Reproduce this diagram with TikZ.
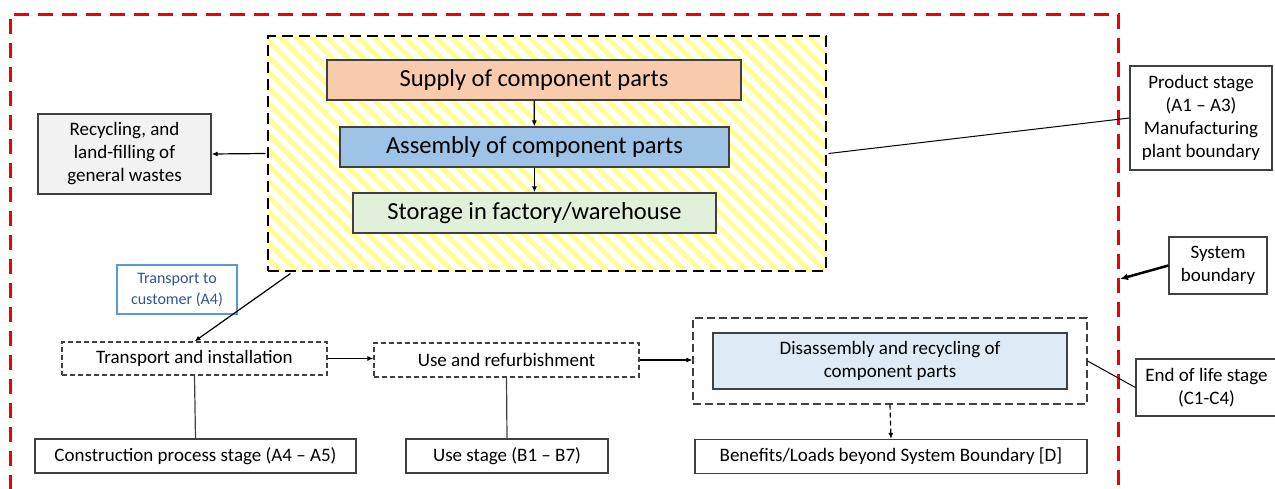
\documentclass[tikz,border=0pt]{standalone}
\usepackage{fontspec}
\setmainfont{Carlito}
\usetikzlibrary{arrows.meta,patterns.meta,calc}
\definecolor{supplycol}{RGB}{248,203,173}
\definecolor{assemblycol}{RGB}{157,195,230}
\definecolor{storagecol}{RGB}{226,240,217}
\definecolor{wastecol}{RGB}{242,242,242}
\definecolor{recyclecol}{RGB}{222,235,247}
\definecolor{hatchcol}{RGB}{255,255,150}
\definecolor{boxline}{RGB}{64,64,64}
\definecolor{notecol}{RGB}{47,85,151}
\definecolor{noteline}{RGB}{91,155,213}
\definecolor{boundcol}{RGB}{240,0,0}
\begin{document}
\begin{tikzpicture}
[x=1pt, y=-1pt, line width=1.2pt, >={Latex[length=6pt,width=5pt]},
font=\fontsize{19}{23}\selectfont,
stage/.style={rectangle, draw=boxline, align=center, inner sep=0pt},
bigstage/.style={stage, font=\fontsize{24.5}{29}\selectfont, minimum height=40pt},
dashstage/.style={stage, dash pattern=on 5pt off 3pt},
plantbox/.style={rectangle, draw=black, line width=2.2pt, dash pattern=on 11pt off 6pt, inner sep=0pt,
  pattern={Lines[angle=-45,distance=11pt,line width=5pt]}, pattern color=hatchcol},
notebox/.style={rectangle, draw=noteline, text=notecol, align=center, inner sep=0pt,
  font=\fontsize{16}{21}\selectfont},
link/.style={draw=black, line width=1.2pt}]

\useasboundingbox (0,0) rectangle (1275,488);

\draw[boundcol, line width=3pt, dash pattern=on 15pt off 9pt] (10,490) -- (10,14) -- (1118,14) -- (1118,490);

\node[plantbox, minimum width=558pt, minimum height=235pt] (plant) at (547,153.5) {};

\node[bigstage, fill=supplycol, minimum width=414pt] (supply) at (534,80) {Supply of component parts};
\node[bigstage, fill=assemblycol, minimum width=389pt] (assembly) at (534.5,147) {Assembly of component parts};
\node[bigstage, fill=storagecol, minimum width=363pt] (storage) at (534.5,213) {Storage in factory/warehouse};

\node[stage, fill=wastecol, minimum width=173pt, minimum height=80pt] (waste) at (124.5,154) {Recycling, and\\land-filling of\\general wastes};

\node[stage, fill=white, minimum width=142pt, minimum height=104pt] (product) at (1201,118) {Product stage\\(A1 -- A3)\\Manufacturing\\plant boundary};
\node[stage, fill=white, minimum width=98pt, minimum height=57pt] (sysbound) at (1218,265.5) {System\\boundary};
\node[stage, fill=white, minimum width=141pt, minimum height=57pt] (eolstage) at (1206.5,387.5) {End of life stage\\(C1-C4)};

\node[notebox, minimum width=120pt, minimum height=49pt] (tocust) at (177,289.5) {Transport to\\customer (A4)};

\node[dashstage, minimum width=265pt, minimum height=33pt] (install) at (194.5,358.5) {Transport and installation};
\node[dashstage, minimum width=265pt, minimum height=34pt] (use) at (506.5,360) {Use and refurbishment};
\node[stage, dash pattern=on 8pt off 4pt, minimum width=394pt, minimum height=86pt] (eolbox) at (890,361) {};
\node[stage, fill=recyclecol, minimum width=354pt, minimum height=56pt] (disasm) at (890,361) {Disassembly and recycling of\\component parts};

\node[stage, minimum width=321pt, minimum height=34pt] (constr) at (195.5,456) {Construction process stage (A4 -- A5)};
\node[stage, minimum width=202pt, minimum height=34pt] (usestage) at (507,456) {Use stage (B1 -- B7)};
\node[stage, minimum width=392pt, minimum height=34pt] (benefit) at (891,456.5) {Benefits/Loads beyond System Boundary [D]};

\coordinate (plantout) at ($(plant.south west)+(25,0)$);
\coordinate (boundhit) at (1120,279);

\draw[link, ->] (supply) -- (assembly);
\draw[link, ->] (assembly) -- (storage);
\draw[link, ->] (plant.west) -- (waste.east);
\draw[link, line width=1pt] (product.west) -- (plant.east);
\draw[link, ->, line width=2.5pt, >={Latex[length=8pt,width=7pt]}] (sysbound.west) -- (boundhit);
\draw[link, ->] (plantout) -- (install.north);
\draw[link, ->] (install.east) -- (use.west |- install.east);
\draw[link, ->] (use.east) -- (eolbox.west |- use.east);
\draw[link, ->, dash pattern=on 5pt off 3pt] (eolbox.south) -- (benefit.north);
\draw[link, draw=boxline] (install.south) -- (constr.north);
\draw[link, draw=boxline] (use.south) -- (usestage.north);
\draw[link, line width=1pt] (eolbox.east) -- (eolstage.west);
\end{tikzpicture}
\end{document}
